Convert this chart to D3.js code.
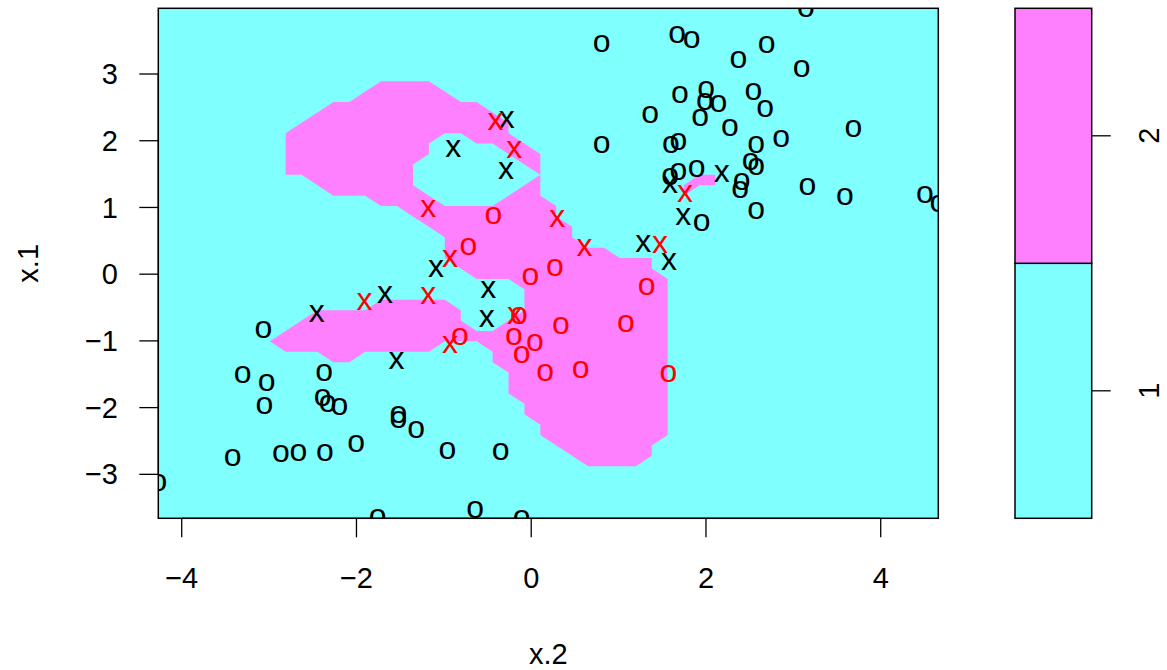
<!DOCTYPE html>
<html><head><meta charset="utf-8">
<script src="https://cdn.jsdelivr.net/npm/d3@7"></script>
<style>body{margin:0;background:#fff} svg{display:block} text{font-family:"Liberation Sans", Arial, Helvetica, sans-serif}</style>
</head><body><svg id="chart" width="1167" height="670"></svg>
<script>
// ---- data ----
const xLimits = [-4.268, 4.659];   // range of x.2 (grid span)
const yLimits = [-3.659, 3.985];   // range of x.1 (grid span)
const gridSize = 50;
const classLevels = ["1", "2"];
const classColors = ["#80FFFF", "#FF80FF"];
const xTicks = [-4, -2, 0, 2, 4];
const yTicks = [-3, -2, -1, 0, 1, 2, 3];
const xLabel = "x.2";
const yLabel = "x.1";
// grid rows (j from bottom) where the prediction is class "2": [row, firstCol, lastCol]
const class2Runs = [
  [42,14,17],[41,13,18],[40,11,20],[39,10,21],[38,9,22],[37,8,22],
  [36,8,17],[36,20,23],[35,8,17],[35,22,24],[34,8,16],[34,23,24],
  [33,8,16],[33,24,24],[33,34,35],[32,10,16],[32,23,24],[32,33,35],
  [31,11,17],[31,22,24],[31,33,33],[30,14,25],[29,16,25],[28,17,26],
  [27,18,26],[26,18,28],[25,18,31],[24,19,31],[23,20,32],[22,23,32],
  [21,14,18],[21,23,32],[20,10,19],[20,23,32],[19,9,19],[19,22,32],
  [18,8,32],[17,7,32],[16,8,17],[16,21,32],[15,11,12],[15,21,32],
  [14,22,32],[13,22,32],[12,22,32],[11,23,32],[10,23,32],[9,24,32],
  [8,24,32],[7,25,31],[6,26,31],[5,27,30]
];
// observations [x.2, x.1]
const class1Points = [
  [0.807,3.461],[0.807,1.936],[1.669,3.585],[1.837,3.510],[1.360,2.386],[1.703,2.686],[2.001,2.771],
  [1.989,2.585],[2.141,2.551],[1.932,2.352],[2.275,2.196],[2.370,3.210],[2.695,3.435],[3.096,3.086],
  [3.145,3.985],[2.542,2.735],[2.676,2.487],[3.686,2.187],[1.600,1.936],[1.684,1.986],[2.573,1.936],
  [2.859,2.037],[1.894,1.587],[1.684,1.536],[1.589,1.461],[2.512,1.686],[2.573,1.611],[2.409,1.386],
  [2.390,1.262],[3.160,1.311],[3.591,1.162],[4.507,1.187],[4.659,1.063],[1.951,0.767],[2.573,0.952],
  [-3.066,-0.836],[-3.302,-1.500],[-3.027,-1.626],[-2.371,-1.470],[-3.055,-1.971],[-2.386,-1.851],
  [-2.329,-1.945],[-2.196,-1.986],[-1.521,-2.100],[-1.521,-2.175],[-1.318,-2.335],[-3.416,-2.750],
  [-2.864,-2.695],[-2.666,-2.669],[-2.360,-2.669],[-2.005,-2.545],[-4.268,-3.125],[-1.757,-3.645],
  [-0.960,-2.650],[-0.349,-2.665],[-0.643,-3.534],[-0.109,-3.659]
];
const class1SupportVectors = [
  [-0.280,2.322],[-0.892,1.887],[-0.288,1.547],[-1.090,0.078],[-0.491,-0.226],[-0.509,-0.667],
  [-2.455,-0.586],[-1.673,-0.312],[-1.542,-1.293],[2.180,1.512],[1.589,1.337],[1.741,0.862],
  [1.283,0.463],[1.577,0.187]
];
const class2Points = [
  [-0.434,0.872],[-0.720,0.412],[0.272,0.097],[-0.008,-0.037],[1.322,-0.187],[-0.140,-0.627],
  [0.341,-0.772],[1.085,-0.743],[-0.815,-0.937],[-0.197,-0.937],[0.043,-1.028],[-0.109,-1.211],
  [0.158,-1.478],[0.567,-1.436],[1.571,-1.493]
];
const class2SupportVectors = [
  [-0.409,2.286],[-0.193,1.862],[-1.178,0.988],[0.299,0.838],[0.610,0.393],[-0.929,0.228],
  [-1.178,-0.327],[-1.908,-0.417],[-0.929,-1.061],[-0.185,-0.627],[1.760,1.202],[1.474,0.438]
];

// ---- layout ----
const plot = {left: 158.3, right: 938.3, top: 8.3, bottom: 518.3};
const key = {left: 1015, right: 1091.7};
const labelSize = 29, pointSize = 32;

const svg = d3.select("#chart");
const x = d3.scaleLinear().domain(xLimits).range([plot.left, plot.right]);
const y = d3.scaleLinear().domain(yLimits).range([plot.bottom, plot.top]);

// grid of predictions
const gx = d3.range(gridSize).map(i => xLimits[0] + i * (xLimits[1] - xLimits[0]) / (gridSize - 1));
const gy = d3.range(gridSize).map(j => yLimits[0] + j * (yLimits[1] - yLimits[0]) / (gridSize - 1));
const pred = d3.range(gridSize).map(() => new Array(gridSize).fill(1));
class2Runs.forEach(([j, a, b]) => { for (let i = a; i <= b; i++) pred[i][j] = 2; });

svg.append("defs").append("clipPath").attr("id", "clip")
  .append("rect").attr("x", plot.left).attr("y", plot.top)
  .attr("width", plot.right - plot.left).attr("height", plot.bottom - plot.top);

// background = class 1 colour
svg.append("rect").attr("x", plot.left).attr("y", plot.top)
  .attr("width", plot.right - plot.left).attr("height", plot.bottom - plot.top)
  .attr("fill", classColors[0]);

// class 2 region: filled contour at level 2 (cells / triangles)
let pathStr = "";
for (let i = 0; i < gridSize - 1; i++) {
  for (let j = 0; j < gridSize - 1; j++) {
    const corners = [[i, j], [i + 1, j], [i + 1, j + 1], [i, j + 1]];
    const pink = corners.filter(([a, b]) => pred[a][b] === 2);
    if (pink.length >= 3) {
      pathStr += "M" + pink.map(([a, b]) => x(gx[a]).toFixed(2) + "," + y(gy[b]).toFixed(2)).join("L") + "Z";
    }
  }
}
svg.append("path").attr("d", pathStr).attr("fill", classColors[1]).attr("clip-path", "url(#clip)");

// points
const pts = svg.append("g").attr("clip-path", "url(#clip)")
  .attr("font-size", pointSize).attr("text-anchor", "middle");
function drawPts(data, ch, col) {
  pts.selectAll(null).data(data).enter().append("text")
    .attr("x", d => x(d[0])).attr("y", d => y(d[1]) + 0.26 * pointSize)
    .attr("fill", col).text(ch);
}
drawPts(class1Points, "o", "#000000");
drawPts(class1SupportVectors, "x", "#000000");
drawPts(class2Points, "o", "#FF0000");
drawPts(class2SupportVectors, "x", "#FF0000");

// box
svg.append("rect").attr("x", plot.left).attr("y", plot.top)
  .attr("width", plot.right - plot.left).attr("height", plot.bottom - plot.top)
  .attr("fill", "none").attr("stroke", "#000").attr("stroke-width", 1.5);

const fmt = d => d < 0 ? "\u2212" + Math.abs(d) : String(d);
const tickLen = 19;
// x axis
const xa = svg.append("g").attr("stroke", "#000").attr("stroke-width", 1.3);
xa.append("line").attr("x1", x(xTicks[0])).attr("x2", x(xTicks[xTicks.length - 1]))
  .attr("y1", plot.bottom).attr("y2", plot.bottom);
xa.selectAll(null).data(xTicks).enter().append("line")
  .attr("x1", d => x(d)).attr("x2", d => x(d)).attr("y1", plot.bottom).attr("y2", plot.bottom + tickLen);
svg.append("g").attr("font-size", labelSize).attr("text-anchor", "middle")
  .selectAll(null).data(xTicks).enter().append("text")
  .attr("x", d => x(d)).attr("y", 588).text(fmt);
// y axis
const ya = svg.append("g").attr("stroke", "#000").attr("stroke-width", 1.3);
ya.append("line").attr("y1", y(yTicks[0])).attr("y2", y(yTicks[yTicks.length - 1]))
  .attr("x1", plot.left).attr("x2", plot.left);
ya.selectAll(null).data(yTicks).enter().append("line")
  .attr("y1", d => y(d)).attr("y2", d => y(d)).attr("x1", plot.left).attr("x2", plot.left - tickLen);
svg.append("g").attr("font-size", labelSize).attr("text-anchor", "end")
  .selectAll(null).data(yTicks).enter().append("text")
  .attr("x", 118).attr("y", d => y(d) + 0.35 * labelSize).text(fmt);

// axis titles
svg.append("text").attr("x", (plot.left + plot.right) / 2).attr("y", 664)
  .attr("text-anchor", "middle").attr("font-size", labelSize).text(xLabel);
svg.append("text").attr("transform", `translate(38,${(plot.top + plot.bottom) / 2}) rotate(-90)`)
  .attr("text-anchor", "middle").attr("font-size", labelSize).text(yLabel);

// key
const ky = d3.scaleLinear().domain([1, classLevels.length + 1]).range([plot.bottom, plot.top]);
svg.append("g").selectAll(null).data(classLevels).enter().append("rect")
  .attr("x", key.left).attr("width", key.right - key.left)
  .attr("y", (d, k) => ky(k + 2)).attr("height", (d, k) => ky(k + 1) - ky(k + 2))
  .attr("fill", (d, k) => classColors[k]).attr("stroke", "#000").attr("stroke-width", 1.5);
const ka = svg.append("g").attr("stroke", "#000").attr("stroke-width", 1.3);
ka.selectAll(null).data(classLevels).enter().append("line")
  .attr("x1", key.right).attr("x2", key.right + tickLen)
  .attr("y1", (d, k) => ky(k + 1.5)).attr("y2", (d, k) => ky(k + 1.5));
svg.append("g").attr("font-size", labelSize).attr("text-anchor", "middle")
  .selectAll(null).data(classLevels).enter().append("text")
  .attr("transform", (d, k) => `translate(1159,${ky(k + 1.5)}) rotate(-90)`).text(d => d);
</script></body></html>
